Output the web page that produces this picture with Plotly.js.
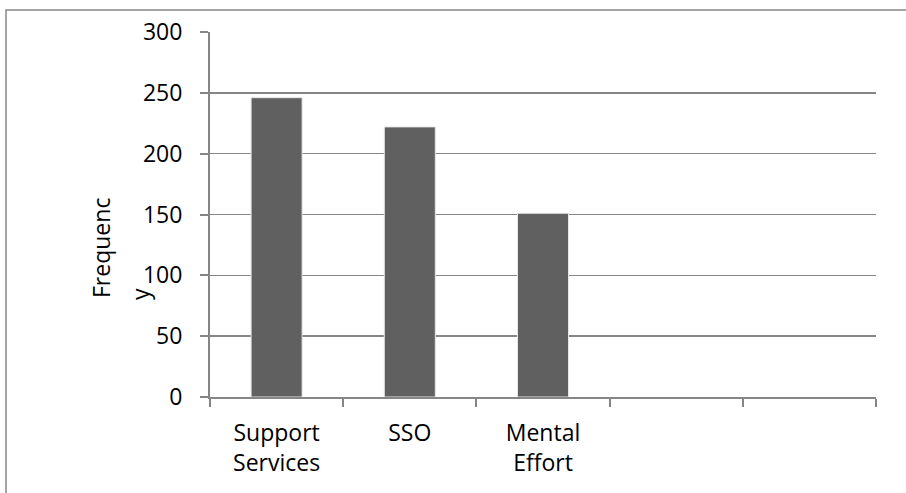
<!DOCTYPE html>
<html>
<head>
<meta charset="utf-8">
<script src="https://cdn.plot.ly/plotly-3.0.1.min.js"></script>
<style>html,body{margin:0;padding:0;background:#fff;}#chart{width:906px;height:493px;}</style>
</head>
<body>
<div id="chart"></div>
<script>
// Data
const categories = ["Support<br>Services", "SSO", "Mental<br>Effort", " ", "  "];
const frequency = [246, 222, 151, null, null];
const yTickValues = [0, 50, 100, 150, 200, 250, 300];
const yAxisLabelLines = ["Frequenc", "y"];

const gray = "#868686";
const font = {family: "Open Sans, Liberation Sans, sans-serif", size: 23, color: "#000"};

const trace = {
  type: "bar",
  x: categories,
  y: frequency,
  marker: {color: "#606060", line: {color: "#e6e6e6", width: 1}},
  hoverinfo: "skip"
};

// plot area in pixels: x 210..876, y 32..397
const px = v => (v - 210) / 666;
const py = v => (397 - v) / 365;

const layout = {
  width: 906, height: 493,
  margin: {l: 210, r: 30, t: 32, b: 96, pad: 0},
  paper_bgcolor: "#fff", plot_bgcolor: "#fff",
  showlegend: false,
  bargap: 0.617,
  font: font,
  xaxis: {
    type: "category",
    categoryorder: "array",
    categoryarray: categories,
    range: [-0.5, 4.5],
    tickson: "boundaries",
    ticks: "outside", ticklen: 8, tickwidth: 2, tickcolor: gray,
    showline: true, linecolor: gray, linewidth: 2,
    showgrid: false, zeroline: false,
    tickfont: font,
    ticklabelstandoff: 14,
    fixedrange: true
  },
  yaxis: {
    range: [0, 300],
    tickvals: yTickValues,
    ticks: "outside", ticklen: 8, tickwidth: 2, tickcolor: gray,
    showline: true, linecolor: gray, linewidth: 2,
    showgrid: true, gridcolor: gray, gridwidth: 1.6,
    zeroline: false,
    tickfont: font,
    ticklabelstandoff: 13,
    fixedrange: true
  },
  annotations: [
    {
      text: yAxisLabelLines[0],
      xref: "paper", yref: "paper",
      x: px(101), y: py(300),
      xanchor: "center", yanchor: "bottom",
      textangle: -90, showarrow: false, font: font
    },
    {
      text: yAxisLabelLines[1],
      xref: "paper", yref: "paper",
      x: px(140), y: py(302),
      xanchor: "center", yanchor: "bottom",
      textangle: -90, showarrow: false, font: font
    }
  ],
  shapes: [{
    type: "rect", xref: "paper", yref: "paper",
    x0: px(6), x1: 1.2,
    y0: -0.5, y1: py(10),
    line: {color: gray, width: 1.5},
    layer: "below"
  }]
};

Plotly.newPlot("chart", [trace], layout, {displayModeBar: false, staticPlot: true});
</script>
</body>
</html>
